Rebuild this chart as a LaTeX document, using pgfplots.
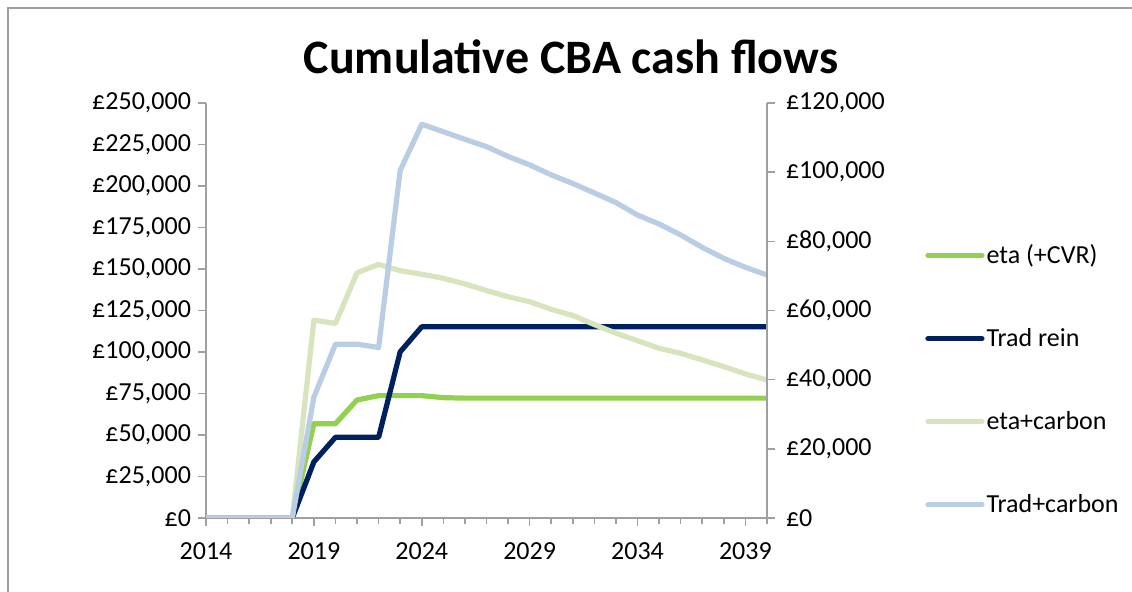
\documentclass[border=0pt]{standalone}
\usepackage{fontspec}
\setmainfont{Carlito}
\usepackage{pgfplots}
\usepackage{pgfplotstable}
\pgfplotsset{compat=1.18}

\definecolor{etagreen}{RGB}{146,208,80}
\definecolor{tradnavy}{RGB}{0,32,96}
\definecolor{etacarbon}{RGB}{215,228,189}
\definecolor{tradcarbon}{RGB}{185,205,229}
\definecolor{axgray}{RGB}{160,160,160}

% cumulative cash flows (left axis units)
\pgfplotstableread{
year eta   trad   etac   tradc
2014 0     0      0      0
2015 0     0      0      0
2016 0     0      0      0
2017 0     0      0      0
2018 0     0      0      0
2019 56800 33800  119200 72800
2020 56800 48600  117200 104700
2021 71100 48600  147700 104700
2022 73700 48600  152800 102700
2023 73700 100100 149000 209400
2024 73700 115200 146800 237200
2025 72500 115200 144400 232700
2026 72200 115200 141000 228100
2027 72200 115200 137000 223700
2028 72200 115200 133300 217800
2029 72200 115200 130300 212700
2030 72200 115200 125700 206700
2031 72200 115200 122000 201500
2032 72200 115200 116500 195800
2033 72200 115200 111300 190000
2034 72200 115200 106800 182500
2035 72200 115200 102200 177100
2036 72200 115200 99200  170500
2037 72200 115200 95200  163000
2038 72200 115200 91200  156400
2039 72200 115200 86800  151000
2040 72200 115200 83100  146400
}\cbadata

\pgfplotsset{
  cba/.style={
    scale only axis,
    width=280.5pt, height=207.5pt,
    xmin=2014, xmax=2040,
    tick align=outside,
    scaled y ticks=false,
    axis line style={axgray, line width=0.8pt},
    every tick/.style={axgray, line width=0.8pt},
    major tick length=4pt,
    minor tick length=3pt,
    tick label style={font=\fontsize{13}{15}\selectfont, black},
    /pgf/number format/assume math mode=true,
  },
  ser/.style={line width=2.6pt, line join=round, line cap=round},
}

\begin{document}
\begin{tikzpicture}
\path[use as bounding box] (0pt,0pt) rectangle (566pt,296pt);
\draw[axgray, line width=1pt] (4pt,0pt) -- (4pt,292pt) -- (566pt,292pt);
\node[anchor=base, font=\fontsize{24}{29}\selectfont\bfseries] at (285.5pt,259pt) {Cumulative CBA cash flows};

\begin{axis}[cba,
  at={(103pt,37pt)}, anchor=south west,
  ymin=0, ymax=250000,
  axis x line*=bottom, axis y line*=left,
  xtick={2014,2019,...,2039},
  minor xtick={2014,...,2040},
  xticklabel={\pgfmathprintnumber[1000 sep={}]{\tick}},
  xticklabel style={yshift=-5pt},
  ytick={0,25000,...,250000},
  yticklabels={{£0},{£25,000},{£50,000},{£75,000},{£100,000},{£125,000},{£150,000},{£175,000},{£200,000},{£225,000},{£250,000}},
  legend style={at={(1.2816,0.333)}, anchor=west, draw=none, fill=none,
    inner sep=0pt, row sep=29pt, font=\fontsize{13}{15}\selectfont,
    nodes={inner sep=1pt, anchor=west},
    /tikz/every even column/.append style={column sep=0pt}},
  legend image code/.code={\draw[#1] (0pt,0pt) -- (27pt,0pt);},
  legend cell align=left,
]
\addplot[ser, etagreen] table[x=year, y=eta] {\cbadata};
\addlegendentry{eta (+CVR)}
\addplot[ser, tradnavy] table[x=year, y=trad] {\cbadata};
\addlegendentry{Trad rein}
\addplot[ser, etacarbon] table[x=year, y=etac] {\cbadata};
\addlegendentry{eta+carbon}
\addplot[ser, tradcarbon] table[x=year, y=tradc] {\cbadata};
\addlegendentry{Trad+carbon}
\end{axis}

\begin{axis}[cba,
  at={(103pt,37pt)}, anchor=south west,
  ymin=0, ymax=120000,
  axis x line=none, axis y line*=right,
  ytick={0,20000,...,120000},
  yticklabels={{£0},{£20,000},{£40,000},{£60,000},{£80,000},{£100,000},{£120,000}},
  yticklabel style={xshift=2pt},
]
\addplot[draw=none] coordinates {(2014,0)};
\end{axis}
\end{tikzpicture}
\end{document}
